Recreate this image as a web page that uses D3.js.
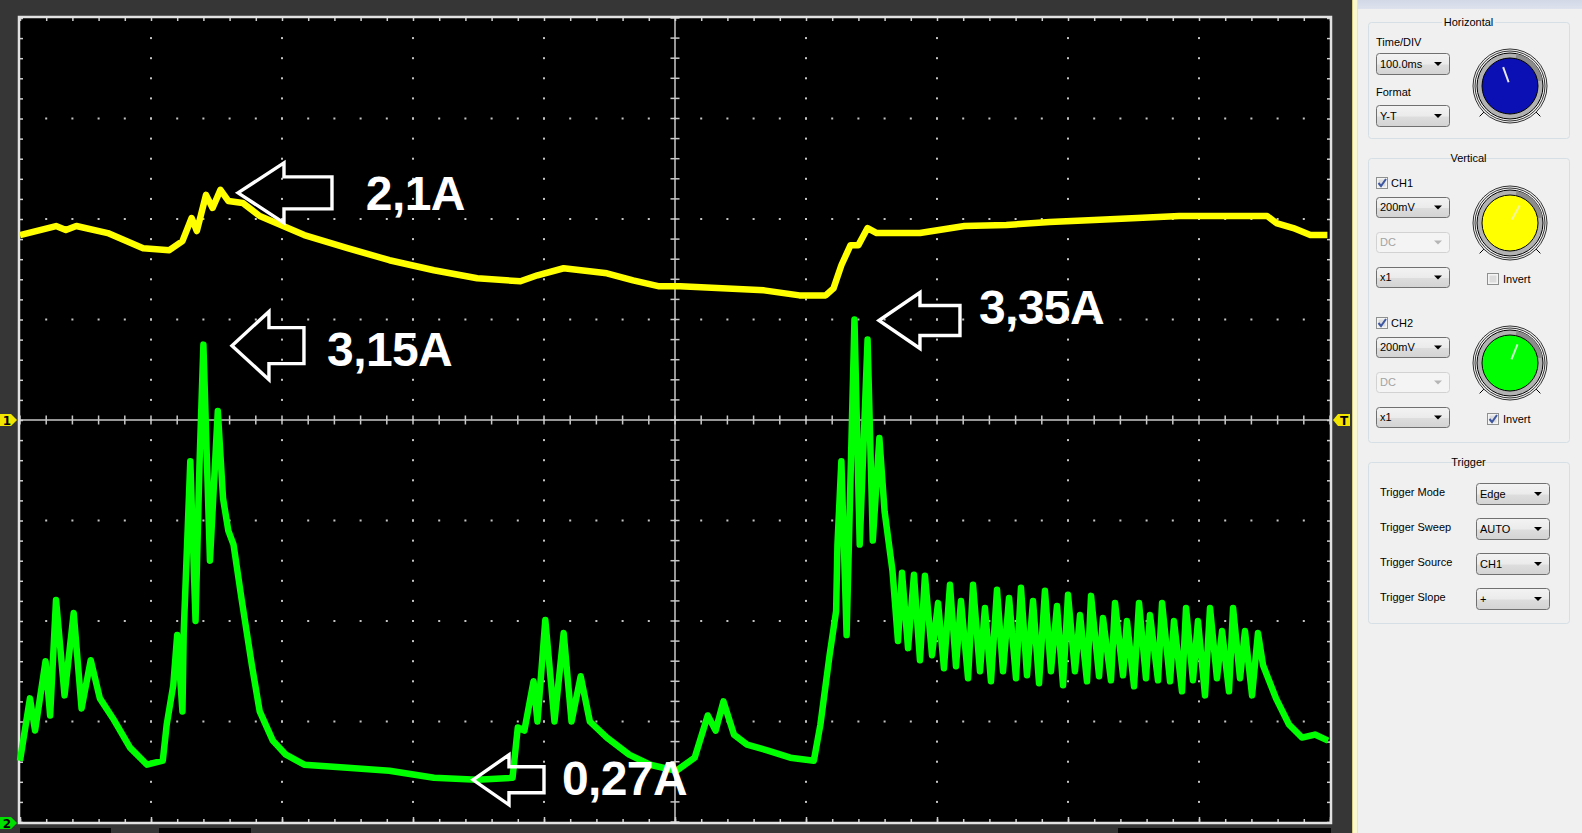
<!DOCTYPE html>
<html><head><meta charset="utf-8">
<script src="https://cdn.jsdelivr.net/npm/d3@7"></script>
<style>html,body{margin:0;padding:0;background:#363636;overflow:hidden}svg{display:block}</style>
</head><body><svg id="c" width="1582" height="833"></svg>
<script>
// ---- data (time in ms, 100 ms/div; value in screen divisions from centre) ----
const timeDomain = [0, 1000];
const divDomain = [-4, 4];
const ch1 = [[0,1.84],[27.5,1.93],[35,1.89],[43,1.93],[67,1.86],[94,1.71],[114,1.69],[124,1.78],[131,2.01],[135,1.88],[142,2.24],[147,2.11],[153,2.29],[159,2.18],[170,2.16],[183,2.03],[217,1.84],[250,1.71],[282,1.59],[316,1.49],[349,1.41],[382,1.38],[395,1.44],[415,1.51],[448,1.46],[468,1.39],[488,1.33],[504,1.33],[568,1.29],[595,1.24],[615,1.24],[621,1.31],[627,1.54],[634,1.74],[640,1.74],[647,1.91],[654,1.86],[687,1.86],[721,1.93],[753,1.94],[786,1.97],[820,1.99],[853,2.01],[885,2.03],[919,2.03],[952,2.03],[959,1.96],[972,1.91],[985,1.84],[998,1.84]];
const ch2 = [[0,-3.39],[7.6,-2.77],[11.5,-3.09],[19.5,-2.40],[23,-2.94],[27.5,-1.79],[34,-2.74],[41,-1.92],[47,-2.87],[54,-2.39],[61,-2.77],[71,-2.97],[84,-3.26],[97,-3.43],[109,-3.39],[112,-3.03],[117,-2.64],[120,-2.14],[124,-2.90],[125,-2.10],[130,-0.41],[134,-2.00],[137,-0.45],[140,0.75],[145,-1.40],[151,0.09],[155,-0.78],[159,-1.10],[163,-1.24],[169,-1.77],[177,-2.44],[183,-2.90],[193,-3.19],[203,-3.33],[217,-3.43],[250,-3.46],[282,-3.49],[316,-3.56],[349,-3.58],[376,-3.56],[380,-3.06],[385,-3.09],[392,-2.60],[395,-3.00],[401,-1.99],[408,-3.00],[415,-2.12],[421,-3.00],[428,-2.55],[435,-3.00],[448,-3.16],[465,-3.33],[481,-3.43],[501,-3.49],[515,-3.36],[525,-2.94],[531,-3.09],[537,-2.80],[545,-3.13],[555,-3.23],[571,-3.29],[588,-3.36],[606,-3.39],[611,-3.03],[618,-2.34],[623,-1.90],[624,-1.24],[627,-0.41],[631,-2.14],[637,1.00],[641,-1.24],[647,0.80],[651,-1.20],[656,-0.18],[660,-0.91],[666,-1.50],
[670.2,-2.20],[673.3,-1.52],[677.9,-2.27],[682.4,-1.54],[687.0,-2.39],[690.8,-1.55],[696.2,-2.34],[700.8,-1.82],[705.3,-2.47],[709.9,-1.64],[714.5,-2.45],[718.3,-1.80],[723.7,-2.57],[727.5,-1.64],[732.8,-2.50],[736.6,-1.87],[741.2,-2.60],[745.8,-1.69],[750.4,-2.50],[755.0,-1.77],[760.3,-2.57],[764.1,-1.67],[768.7,-2.54],[773.3,-1.80],[777.9,-2.62],[782.4,-1.70],[787.0,-2.50],[791.6,-1.85],[796.2,-2.64],[800.0,-1.74],[805.3,-2.50],[809.2,-1.94],[814.5,-2.60],[817.6,-1.75],[823.7,-2.55],[826.7,-1.97],[832.8,-2.59],[835.9,-1.82],[842.0,-2.54],[845.0,-2.00],[850.4,-2.65],[854.2,-1.82],[859.5,-2.57],[862.6,-1.94],[868.7,-2.59],[871.8,-1.82],[877.9,-2.60],[880.9,-2.00],[887.0,-2.70],[890.1,-1.87],[895.4,-2.59],[899.2,-2.00],[904.6,-2.74],[908.4,-1.87],[913.7,-2.57],[917.6,-2.10],[922.9,-2.70],[926.0,-1.87],[931.3,-2.57],[935.1,-2.10],[940.5,-2.74],[945.0,-2.12],
[948.9,-2.44],[958.8,-2.77],[968.7,-3.03],[978.6,-3.16],[988.5,-3.13],[998.5,-3.19]];
const annoLabels = ["2,1A", "3,15A", "3,35A", "0,27A"];
const annoTips = [[166.4, 2.26], [161.8, 0.74], [655.7, 0.99], [345.8, -3.58]]; // arrow tips (ms, div)
const annoText = [[264, 2.09], [234.4, 0.54], [732, 0.96], [413.7, -3.73]];   // text anchors (ms, div)
const horizontalSettings = {timeDiv: "100.0ms", format: "Y-T"};
const channelSettings = [{name:"CH1", volts:"200mV", coupling:"DC", probe:"x1", invert:false},
                         {name:"CH2", volts:"200mV", coupling:"DC", probe:"x1", invert:true}];
const triggerLabels = ["Trigger Mode", "Trigger Sweep", "Trigger Source", "Trigger Slope"];
const triggerValues = ["Edge", "AUTO", "CH1", "+"];

// ---- layout ----
const svg = d3.select("#c");
const L = 20, R = 1330, T = 18, B = 822;
const x = d3.scaleLinear().domain(timeDomain).range([L, R]);
const y = d3.scaleLinear().domain(divDomain).range([B, T]);
const defs = svg.append("defs");

svg.append("rect").attr("width", 1582).attr("height", 833).attr("fill", "#363636");
[[L, 111], [159, 251], [1118, 1331]].forEach(([a, b]) =>
  svg.append("rect").attr("x", a).attr("y", 828).attr("width", b - a).attr("height", 6).attr("fill", "#050505"));

svg.append("rect").attr("x", L).attr("y", T).attr("width", R - L).attr("height", B - T).attr("fill", "#000");

const majorX = d3.range(0, 1001, 100), minorX = d3.range(0, 1001, 20);
const majorY = d3.range(-4, 4.001, 1), minorY = d3.range(-4, 4.001, 0.2).map(v => +v.toFixed(2));
const grid = svg.append("g");
majorX.slice(1, -1).forEach(t => minorY.slice(1, -1).forEach(v => {
  if (t !== 500) grid.append("rect").attr("x", x(t) - 1).attr("y", y(v) - 1).attr("width", 2).attr("height", 2).attr("fill", "#c4c4c4");
}));
majorY.slice(1, -1).forEach(v => minorX.slice(1, -1).forEach(t => {
  if (v !== 0) grid.append("rect").attr("x", x(t) - 1).attr("y", y(v) - 1).attr("width", 2).attr("height", 2).attr("fill", "#c4c4c4");
}));
grid.append("line").attr("x1", L).attr("x2", R).attr("y1", y(0)).attr("y2", y(0)).attr("stroke", "#c8c8c8").attr("stroke-width", 1.5);
grid.append("line").attr("x1", x(500)).attr("x2", x(500)).attr("y1", T).attr("y2", B).attr("stroke", "#c8c8c8").attr("stroke-width", 1.5);
minorX.forEach(t => grid.append("line").attr("x1", x(t)).attr("x2", x(t)).attr("y1", y(0) - 4.5).attr("y2", y(0) + 4.5).attr("stroke", "#c8c8c8").attr("stroke-width", 1.5));
minorY.forEach(v => grid.append("line").attr("y1", y(v)).attr("y2", y(v)).attr("x1", x(500) - 4.5).attr("x2", x(500) + 4.5).attr("stroke", "#c8c8c8").attr("stroke-width", 1.5));
function edge(axis, tr) {
  const g = svg.append("g").attr("transform", tr).call(axis);
  g.select(".domain").remove();
  g.selectAll("text").remove();
  g.selectAll("line").attr("stroke", "#d0d0d0").attr("stroke-width", 1.5);
}
edge(d3.axisTop(x).tickValues(minorX).tickSize(3).tickFormat(""), `translate(0,${B})`);
edge(d3.axisTop(x).tickValues(majorX).tickSize(5).tickFormat(""), `translate(0,${B})`);
edge(d3.axisBottom(x).tickValues(minorX).tickSize(3).tickFormat(""), `translate(0,${T})`);
edge(d3.axisRight(y).tickValues(minorY).tickSize(3).tickFormat(""), `translate(${L},0)`);
edge(d3.axisLeft(y).tickValues(minorY).tickSize(3).tickFormat(""), `translate(${R},0)`);
svg.append("rect").attr("x", L - 1).attr("y", T - 1).attr("width", R - L + 2).attr("height", B - T + 2)
  .attr("fill", "none").attr("stroke", "#e2e2e2").attr("stroke-width", 2.5);

// traces (thick strokes approximate the noisy bands of the capture)
const line = d3.line().x(d => x(d[0])).y(d => y(d[1]));
svg.append("path").datum(ch1).attr("d", line).attr("fill", "none").attr("stroke", "#ffff00")
  .attr("stroke-width", 6.5).attr("stroke-linejoin", "round");
svg.append("path").datum(ch2).attr("d", line).attr("fill", "none").attr("stroke", "#00ff00")
  .attr("stroke-width", 6.5).attr("stroke-linejoin", "round");

// annotations
const arrowShapes = [[46, 30, 16, 94], [37, 34, 18, 72], [41, 28, 15, 81], [36, 25, 13, 71]];
annoLabels.forEach((lab, i) => {
  const tx = x(annoTips[i][0]), ty = y(annoTips[i][1]);
  const [hl, hh, sh, len] = arrowShapes[i];
  const p = `M${tx},${ty} L${tx + hl},${ty - hh} L${tx + hl},${ty - sh} L${tx + len},${ty - sh} L${tx + len},${ty + sh} L${tx + hl},${ty + sh} L${tx + hl},${ty + hh} Z`;
  svg.append("path").attr("d", p).attr("fill", "none").attr("stroke", "#fff").attr("stroke-width", 3.4).attr("stroke-linejoin", "miter");
  svg.append("text").attr("x", x(annoText[i][0])).attr("y", y(annoText[i][1])).text(lab)
    .attr("fill", "#fff").attr("font-family", "Liberation Sans, Arial, sans-serif").attr("font-weight", "bold")
    .attr("font-size", 48).attr("letter-spacing", -0.6);
});

function marker(xx, yy, dir, col, txt) {
  const g = svg.append("g");
  const p = dir > 0 ? `M${xx},${yy - 6} L${xx + 11},${yy - 6} L${xx + 17},${yy} L${xx + 11},${yy + 6} L${xx},${yy + 6} Z`
                    : `M${xx},${yy} L${xx + 5},${yy - 6} L${xx + 17},${yy - 6} L${xx + 17},${yy + 6} L${xx + 5},${yy + 6} Z`;
  g.append("path").attr("d", p).attr("fill", col);
  g.append("text").attr("x", dir > 0 ? xx + 7 : xx + 11).attr("y", yy + 4.5).attr("text-anchor", "middle").text(txt)
    .attr("font-family", "DejaVu Sans, sans-serif").attr("font-weight", "bold").attr("font-size", 12).attr("fill", "#000");
}
marker(0, y(0), 1, "#f2e600", "1");
marker(1333, y(0), -1, "#f2e600", "T");
marker(0, 823, 1, "#00e000", "2");

// ---- right panel ----
const P = svg.append("g");
P.append("rect").attr("x", 1352).attr("y", 0).attr("width", 230).attr("height", 833).attr("fill", "#f0f0f0");
P.append("rect").attr("x", 1352).attr("y", 0).attr("width", 6).attr("height", 833).attr("fill", "#fbf7cf");
P.append("line").attr("x1", 1352.5).attr("x2", 1352.5).attr("y1", 0).attr("y2", 833).attr("stroke", "#d9cf86");
P.append("line").attr("x1", 1357.5).attr("x2", 1357.5).attr("y1", 0).attr("y2", 833).attr("stroke", "#ece6b0");
const hg = defs.append("linearGradient").attr("id", "hdr").attr("x1", 0).attr("x2", 0).attr("y1", 0).attr("y2", 1);
hg.append("stop").attr("offset", 0).attr("stop-color", "#d2d8e6");
hg.append("stop").attr("offset", 1).attr("stop-color", "#dde2ee");
P.append("rect").attr("x", 1358).attr("y", 0).attr("width", 224).attr("height", 9).attr("fill", "url(#hdr)");

const FONT = "Liberation Sans, Arial, sans-serif";
function label(t, xx, yy, opts = {}) {
  return P.append("text").attr("x", xx).attr("y", yy).text(t).attr("font-family", FONT).attr("font-size", 11)
    .attr("fill", opts.fill || "#000").attr("text-anchor", opts.anchor || "start");
}
function groupBox(xx, yy, w, h, title) {
  P.append("rect").attr("x", xx + 0.5).attr("y", yy + 0.5).attr("width", w).attr("height", h).attr("rx", 3)
    .attr("fill", "none").attr("stroke", "#d5dfe5");
  const t = label(title, xx + w / 2, yy + 4, {anchor: "middle"});
  const bb = t.node().getBBox();
  P.insert("rect", "text").attr("x", bb.x - 2).attr("y", yy - 2).attr("width", bb.width + 4).attr("height", 5).attr("fill", "#f0f0f0");
}
const dg = defs.append("linearGradient").attr("id", "dd").attr("x1", 0).attr("x2", 0).attr("y1", 0).attr("y2", 1);
dg.append("stop").attr("offset", 0).attr("stop-color", "#f3f3f3");
dg.append("stop").attr("offset", 0.5).attr("stop-color", "#ebebeb");
dg.append("stop").attr("offset", 0.55).attr("stop-color", "#dddddd");
dg.append("stop").attr("offset", 1).attr("stop-color", "#d3d3d3");
function dropdown(xx, yy, w, h, t, disabled) {
  P.append("rect").attr("x", xx + 0.5).attr("y", yy + 0.5).attr("width", w).attr("height", h).attr("rx", 3)
    .attr("fill", disabled ? "#f4f4f4" : "url(#dd)").attr("stroke", disabled ? "#d2d2d2" : "#707070");
  label(t, xx + 4, yy + h / 2 + 4, {fill: disabled ? "#a3a3a3" : "#000"});
  const ax = xx + w - 11, ay = yy + h / 2 - 1.5;
  P.append("path").attr("d", `M${ax - 4},${ay} L${ax + 4},${ay} L${ax},${ay + 4} Z`).attr("fill", disabled ? "#b5b5b5" : "#000");
}
function checkbox(xx, yy, checked) {
  P.append("rect").attr("x", xx + 0.5).attr("y", yy + 0.5).attr("width", 11).attr("height", 11).attr("fill", "#f4f4f4").attr("stroke", "#8e8f8f");
  P.append("rect").attr("x", xx + 2.5).attr("y", yy + 2.5).attr("width", 7).attr("height", 7).attr("fill", "#dcdcdc");
  if (checked) P.append("path").attr("d", `M${xx + 2.5},${yy + 6} L${xx + 5},${yy + 9} L${xx + 10},${yy + 2}`)
    .attr("fill", "none").attr("stroke", "#3d56a0").attr("stroke-width", 2);
}
function knob(cx, cy, col, ang, pcol) {
  const g = P.append("g").attr("transform", `translate(${cx},${cy})`);
  [225, 135].forEach(a => {
    const r = a * Math.PI / 180;
    g.append("line").attr("x1", 33 * Math.sin(r)).attr("y1", -33 * Math.cos(r)).attr("x2", 43 * Math.sin(r)).attr("y2", -43 * Math.cos(r)).attr("stroke", "#000");
  });
  g.append("circle").attr("r", 37).attr("fill", "#f0f0f0").attr("stroke", "#000").attr("stroke-width", 0.8);
  g.append("circle").attr("r", 35).attr("fill", "none").attr("stroke", "#000").attr("stroke-width", 0.8);
  g.append("circle").attr("r", 33).attr("fill", "#b2b2b2").attr("stroke", "#000").attr("stroke-width", 1);
  g.append("path").attr("d", d3.arc()({innerRadius: 28, outerRadius: 33, startAngle: 0.2, endAngle: 1.4})).attr("fill", "#8c8c8c");
  g.append("circle").attr("r", 28).attr("fill", col).attr("stroke", "#000").attr("stroke-width", 1);
  const r = ang * Math.PI / 180;
  g.append("line").attr("x1", 4 * Math.sin(r)).attr("y1", -4 * Math.cos(r)).attr("x2", 20 * Math.sin(r)).attr("y2", -20 * Math.cos(r))
    .attr("stroke", pcol).attr("stroke-width", 2);
}

groupBox(1368, 22, 201, 116, "Horizontal");
label("Time/DIV", 1376, 46);
dropdown(1376, 53, 73, 21, horizontalSettings.timeDiv);
label("Format", 1376, 96);
dropdown(1376, 105, 73, 21, horizontalSettings.format);
knob(1510, 86, "#0a10b4", -20, "#e8e8e8");

groupBox(1368, 158, 201, 284, "Vertical");
const chTop = [177, 317], knobCol = ["#ffff00", "#00ff00"], pCol = ["#f4f4a0", "#c8ffc8"], knobAng = [29, 22];
channelSettings.forEach((c, i) => {
  const t0 = chTop[i];
  checkbox(1376, t0, true);
  label(c.name, 1391, t0 + 10);
  dropdown(1376, t0 + 20, 73, 20, c.volts);
  dropdown(1376, t0 + 55, 73, 20, c.coupling, true);
  dropdown(1376, t0 + 90, 73, 20, c.probe);
  knob(1510, t0 + 46, knobCol[i], knobAng[i], pCol[i]);
  checkbox(1487, t0 + 96, c.invert);
  label("Invert", 1503, t0 + 106);
});

groupBox(1368, 462, 201, 161, "Trigger");
triggerLabels.forEach((t, i) => {
  label(t, 1380, 496 + i * 35);
  dropdown(1476, 483 + i * 35, 73, 21, triggerValues[i]);
});
</script></body></html>
